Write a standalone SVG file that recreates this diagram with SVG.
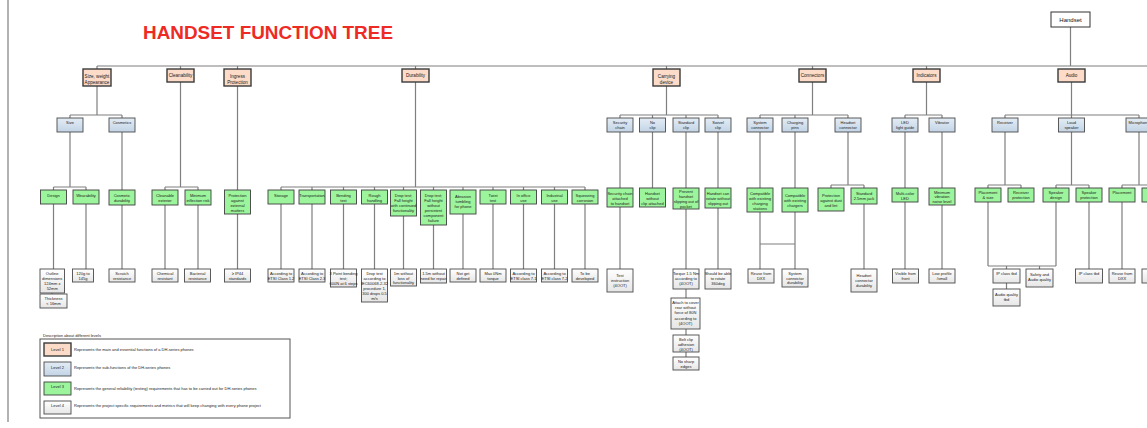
<svg xmlns="http://www.w3.org/2000/svg" width="1147" height="428" viewBox="0 0 1147 428">
<defs>
<linearGradient id="gb" x1="0" y1="0" x2="0" y2="1"><stop offset="0" stop-color="#e3ecf5"/><stop offset="1" stop-color="#c3d4e6"/></linearGradient>
<linearGradient id="gw" x1="0" y1="0" x2="0" y2="1"><stop offset="0" stop-color="#ffffff"/><stop offset="1" stop-color="#e6e6e6"/></linearGradient>
<style>
.l1{fill:#fff;stroke:#333;stroke-width:1}
.l2{fill:#fcdcc9;stroke:#3a3a3a;stroke-width:1.4}
.l3{fill:url(#gb);stroke:#4a4a4a;stroke-width:0.9}
.g{fill:#9cf59c;stroke:#3f3f3f;stroke-width:0.9}
.l4{fill:url(#gw);stroke:#4a4a4a;stroke-width:0.9}
.c{stroke:#7f7f7f;stroke-width:1.2;fill:none}
.t{font-family:"Liberation Sans",Arial,sans-serif;font-size:4px;text-anchor:middle;fill:#1a1a1a}
.t2{font-family:"Liberation Sans",Arial,sans-serif;font-size:4.6px;text-anchor:middle;fill:#1a1a1a}
.tl{font-family:"Liberation Sans",Arial,sans-serif;font-size:4px;fill:#1a1a1a}
</style>
</defs>
<rect x="0" y="0" width="1147" height="428" fill="#fff"/>
<text x="143" y="39" font-family="Liberation Sans, Arial, sans-serif" font-size="19" font-weight="bold" fill="#ee2a24" textLength="250" lengthAdjust="spacingAndGlyphs">HANDSET FUNCTION TREE</text>

<g id="connectors">
<path class="c" d="M8 0V422"/>
<path class="c" d="M1070.5 27V66M97 66H1147"/>
<path class="c" d="M97 66V69M180.5 66V69M237.5 66V69M415.5 66V69M666.5 66V69M812.5 66V69M926.5 66V69"/>
<path class="c" d="M97 86V115M70 115H122M70 115V118M122 115V118"/>
<path class="c" d="M70 132V187M53.5 187H86M53.5 187V190M86 187V190M122 132V190"/>
<path class="c" d="M180.5 82V187M165 187H198M165 187V190M198 187V190"/>
<path class="c" d="M237.5 86V190"/>
<path class="c" d="M415.5 82V187M281 187H585M281 187V190M312 187V190M343.5 187V190M374.5 187V190M403.5 187V190M433.5 187V190M463 187V190M493 187V190M523.5 187V190M554.5 187V190M585 187V190"/>
<path class="c" d="M666.5 86V115M620 115H718M620 115V118M652.5 115V118M686 115V118M718 115V118M620 132V188M652.5 132V188M686 132V188M718 132V188"/>
<path class="c" d="M812.5 82V115M760 115H848M760 115V118M795 115V118M848 115V118M760 132V188M795 132V188M848 132V185M831 185H864M831 185V188M864 185V188"/>
<path class="c" d="M926.5 82V115M905 115H942M905 115V118M942 115V118M905 132V188M942 132V188"/>
<path class="c" d="M1071.5 82V115M1005 115H1139M1005 115V118M1071.5 115V118M1139 115V118M1005 132V185M988 185H1021M988 185V188M1021 185V188M1071.5 132V185M1056 185H1089M1056 185V188M1089 185V188M1139 132V185M1122 185H1147M1122 185V188"/>
<path class="c" d="M53.5 204V269M52 293V294M86 204V269M122 205V269M165 205V269M198 205V269M237.5 214V269"/>
<path class="c" d="M281 204V269M312 204V269M343.5 204V269M374.5 204V269M403.5 216V269M433.5 225V269M463 214V269M493 204V269M523.5 204V269M554.5 204V269M585 204V269"/>
<path class="c" d="M620 207V269M686 209V269M718 208V269M686 289V298M686 329V335M686 352V357"/>
<path class="c" d="M760 212V269M795 212V269M760 244H795M864 204V269M905 202V269M942 205V269"/>
<path class="c" d="M988 202V266M1056 202V266M988 266H1056M1006.5 266V269M1039.5 266V269M1006.5 283V289M1089 202V269M1122 202V269"/>
</g>

<g id="n-handset"><rect class="l1" x="1051" y="12" width="39" height="15"/><text x="1070.5" y="22" font-family="Liberation Sans, Arial, sans-serif" font-size="6" text-anchor="middle" fill="#111">Handset</text></g>

<g id="n-size-weight"><rect class="l2" x="83" y="69" width="28" height="17"/><text class="t2" x="97" y="77.6"><tspan x="97">Size, weight</tspan><tspan x="97" dy="6">Appearance</tspan></text></g>
<g id="n-cleanability"><rect class="l2" x="167" y="69" width="27" height="13"/><text class="t2" x="180.5" y="77">Cleanability</text></g>
<g id="n-ingress"><rect class="l2" x="224" y="69" width="27" height="17"/><text class="t2" x="237.5" y="77.6"><tspan x="237.5">Ingress</tspan><tspan x="237.5" dy="6">Protection</tspan></text></g>
<g id="n-durability"><rect class="l2" x="402" y="69" width="27" height="13"/><text class="t2" x="415.5" y="77">Durability</text></g>
<g id="n-carrying"><rect class="l2" x="653" y="69" width="27" height="17"/><text class="t2" x="666.5" y="77.6"><tspan x="666.5">Carrying</tspan><tspan x="666.5" dy="6">device</tspan></text></g>
<g id="n-connectors"><rect class="l2" x="799" y="69" width="27" height="13"/><text class="t2" x="812.5" y="77">Connectors</text></g>
<g id="n-indicators"><rect class="l2" x="913" y="69" width="27" height="13"/><text class="t2" x="926.5" y="77">Indicators</text></g>
<g id="n-audio"><rect class="l2" x="1058" y="69" width="27" height="13"/><text class="t2" x="1071.5" y="77">Audio</text></g>

<g id="n-size"><rect class="l3" x="57" y="118" width="26" height="14"/><text class="t" x="70" y="123.8">Size</text></g>
<g id="n-cosmetics"><rect class="l3" x="109" y="118" width="26" height="14"/><text class="t" x="122" y="123.8">Cosmetics</text></g>
<g id="n-security-chain"><rect class="l3" x="607" y="118" width="26" height="14"/><text class="t" x="620" y="123.8"><tspan x="620">Security</tspan><tspan x="620" dy="4.8">chain</tspan></text></g>
<g id="n-no-clip"><rect class="l3" x="639.5" y="118" width="26" height="14"/><text class="t" x="652.5" y="123.8"><tspan x="652.5">No</tspan><tspan x="652.5" dy="4.8">clip</tspan></text></g>
<g id="n-standard-clip"><rect class="l3" x="673" y="118" width="26" height="14"/><text class="t" x="686" y="123.8"><tspan x="686">Standard</tspan><tspan x="686" dy="4.8">clip</tspan></text></g>
<g id="n-swivel-clip"><rect class="l3" x="705" y="118" width="26" height="14"/><text class="t" x="718" y="123.8"><tspan x="718">Swivel</tspan><tspan x="718" dy="4.8">clip</tspan></text></g>
<g id="n-system-connector"><rect class="l3" x="747" y="118" width="26" height="14"/><text class="t" x="760" y="123.8"><tspan x="760">System</tspan><tspan x="760" dy="4.8">connector</tspan></text></g>
<g id="n-charging-pins"><rect class="l3" x="782" y="118" width="26" height="14"/><text class="t" x="795" y="123.8"><tspan x="795">Charging</tspan><tspan x="795" dy="4.8">pins</tspan></text></g>
<g id="n-headset-connector"><rect class="l3" x="835" y="118" width="26" height="14"/><text class="t" x="848" y="123.8"><tspan x="848">Headset</tspan><tspan x="848" dy="4.8">connector</tspan></text></g>
<g id="n-led"><rect class="l3" x="892" y="118" width="26" height="14"/><text class="t" x="905" y="123.8"><tspan x="905">LED</tspan><tspan x="905" dy="4.8">light guide</tspan></text></g>
<g id="n-vibrator"><rect class="l3" x="929" y="118" width="26" height="14"/><text class="t" x="942" y="123.8">Vibrator</text></g>
<g id="n-receiver"><rect class="l3" x="992" y="118" width="26" height="14"/><text class="t" x="1005" y="123.8">Receiver</text></g>
<g id="n-loud-speaker"><rect class="l3" x="1058.5" y="118" width="26" height="14"/><text class="t" x="1071.5" y="123.8"><tspan x="1071.5">Loud</tspan><tspan x="1071.5" dy="4.8">speaker</tspan></text></g>
<g id="n-microphone"><rect class="l3" x="1126" y="118" width="26" height="14"/><text class="t" x="1139" y="123.8">Microphone</text></g>

<g id="n-design"><rect class="g" x="40.5" y="190" width="26" height="14"/><text class="t" x="53.5" y="196.7">Design</text></g>
<g id="n-wearability"><rect class="g" x="73" y="190" width="26" height="14"/><text class="t" x="86" y="196.7">Wearability</text></g>
<g id="n-cosmetic-durability"><rect class="g" x="109" y="190" width="26" height="15"/><text class="t" x="122" y="196.7"><tspan x="122">Cosmetic</tspan><tspan x="122" dy="5">durability</tspan></text></g>
<g id="n-cleanable-exterior"><rect class="g" x="152" y="190" width="26" height="15"/><text class="t" x="165" y="196.7"><tspan x="165">Cleanable</tspan><tspan x="165" dy="5">exterior</tspan></text></g>
<g id="n-minimum-inflection"><rect class="g" x="185" y="190" width="26" height="15"/><text class="t" x="198" y="196.7"><tspan x="198">Minimum</tspan><tspan x="198" dy="5">inflection risk</tspan></text></g>
<g id="n-protection-external"><rect class="g" x="224.5" y="190" width="26" height="24"/><text class="t" x="237.5" y="196.7"><tspan x="237.5">Protection</tspan><tspan x="237.5" dy="5">against</tspan><tspan x="237.5" dy="5">external</tspan><tspan x="237.5" dy="5">matters</tspan></text></g>
<g id="n-storage"><rect class="g" x="268" y="190" width="26" height="14"/><text class="t" x="281" y="196.7">Storage</text></g>
<g id="n-transportation"><rect class="g" x="299" y="190" width="26" height="14"/><text class="t" x="312" y="196.7">Transportation</text></g>
<g id="n-bending"><rect class="g" x="330.5" y="190" width="26" height="14"/><text class="t" x="343.5" y="196.7"><tspan x="343.5">Bending</tspan><tspan x="343.5" dy="5">test</tspan></text></g>
<g id="n-rough"><rect class="g" x="361.5" y="190" width="26" height="14"/><text class="t" x="374.5" y="196.7"><tspan x="374.5">Rough</tspan><tspan x="374.5" dy="5">handling</tspan></text></g>
<g id="n-drop1"><rect class="g" x="390.5" y="190" width="26" height="26"/><text class="t" x="403.5" y="196.7"><tspan x="403.5">Drop test;</tspan><tspan x="403.5" dy="5">Fall height</tspan><tspan x="403.5" dy="5">with continued</tspan><tspan x="403.5" dy="5">functionality</tspan></text></g>
<g id="n-drop2"><rect class="g" x="420.5" y="190" width="26" height="35"/><text class="t" x="433.5" y="196.7"><tspan x="433.5">Drop test;</tspan><tspan x="433.5" dy="5">Fall height</tspan><tspan x="433.5" dy="5">without</tspan><tspan x="433.5" dy="5">persistent</tspan><tspan x="433.5" dy="5">component</tspan><tspan x="433.5" dy="5">failure</tspan></text></g>
<g id="n-abrasion"><rect class="g" x="450" y="190" width="26" height="24"/><text class="t" x="463" y="197.5"><tspan x="463">Abrasion</tspan><tspan x="463" dy="5">tumbling</tspan><tspan x="463" dy="5">for phone</tspan></text></g>
<g id="n-twist"><rect class="g" x="480" y="190" width="26" height="14"/><text class="t" x="493" y="196.7"><tspan x="493">Twist</tspan><tspan x="493" dy="5">test</tspan></text></g>
<g id="n-office"><rect class="g" x="510.5" y="190" width="26" height="14"/><text class="t" x="523.5" y="196.7"><tspan x="523.5">In office</tspan><tspan x="523.5" dy="5">use</tspan></text></g>
<g id="n-industrial"><rect class="g" x="541.5" y="190" width="26" height="14"/><text class="t" x="554.5" y="196.7"><tspan x="554.5">Industrial</tspan><tspan x="554.5" dy="5">use</tspan></text></g>
<g id="n-squeezing"><rect class="g" x="572" y="190" width="26" height="14"/><text class="t" x="585" y="196.7"><tspan x="585">Squeezing</tspan><tspan x="585" dy="5">corrosion</tspan></text></g>
<g id="n-chain-attached"><rect class="g" x="607" y="188" width="26" height="19"/><text class="t" x="620" y="194.5"><tspan x="620">Security chain</tspan><tspan x="620" dy="5">attached</tspan><tspan x="620" dy="5">to handset</tspan></text></g>
<g id="n-without-clip"><rect class="g" x="639.5" y="188" width="26" height="19"/><text class="t" x="652.5" y="194.5"><tspan x="652.5">Handset</tspan><tspan x="652.5" dy="5">without</tspan><tspan x="652.5" dy="5">clip attached</tspan></text></g>
<g id="n-prevent"><rect class="g" x="673" y="188" width="26" height="21"/><text class="t" x="686" y="192.8"><tspan x="686">Prevent</tspan><tspan x="686" dy="4.9">handset</tspan><tspan x="686" dy="4.9">slipping out of</tspan><tspan x="686" dy="4.9">pocket</tspan></text></g>
<g id="n-rotate"><rect class="g" x="705" y="188" width="26" height="20"/><text class="t" x="718" y="194.5"><tspan x="718">Handset can</tspan><tspan x="718" dy="5">rotate without</tspan><tspan x="718" dy="5">slipping out</tspan></text></g>
<g id="n-compat-stations"><rect class="g" x="747" y="188" width="26" height="24"/><text class="t" x="760" y="194.5"><tspan x="760">Compatible</tspan><tspan x="760" dy="5">with existing</tspan><tspan x="760" dy="5">charging</tspan><tspan x="760" dy="5">stations</tspan></text></g>
<g id="n-compat-chargers"><rect class="g" x="782" y="188" width="26" height="24"/><text class="t" x="795" y="197"><tspan x="795">Compatible</tspan><tspan x="795" dy="5">with existing</tspan><tspan x="795" dy="5">chargers</tspan></text></g>
<g id="n-dust-lint"><rect class="g" x="818" y="188" width="26" height="23"/><text class="t" x="831" y="196.5"><tspan x="831">Protection</tspan><tspan x="831" dy="5">against dust</tspan><tspan x="831" dy="5">and lint</tspan></text></g>
<g id="n-jack"><rect class="g" x="851" y="188" width="26" height="16"/><text class="t" x="864" y="194.5"><tspan x="864">Standard</tspan><tspan x="864" dy="5">2.5mm jack</tspan></text></g>
<g id="n-multicolor"><rect class="g" x="892" y="188" width="26" height="14"/><text class="t" x="905" y="194.5"><tspan x="905">Multi-color</tspan><tspan x="905" dy="5">LED</tspan></text></g>
<g id="n-min-vibration"><rect class="g" x="929" y="188" width="26" height="17"/><text class="t" x="942" y="193.8"><tspan x="942">Minimum</tspan><tspan x="942" dy="4.5">vibration</tspan><tspan x="942" dy="4.5">noise level</tspan></text></g>
<g id="n-placement-size"><rect class="g" x="975" y="188" width="26" height="14"/><text class="t" x="988" y="194"><tspan x="988">Placement</tspan><tspan x="988" dy="4.6">&amp; size</tspan></text></g>
<g id="n-receiver-protection"><rect class="g" x="1008" y="188" width="26" height="14"/><text class="t" x="1021" y="194"><tspan x="1021">Receiver</tspan><tspan x="1021" dy="4.6">protection</tspan></text></g>
<g id="n-speaker-design"><rect class="g" x="1043" y="188" width="26" height="14"/><text class="t" x="1056" y="194"><tspan x="1056">Speaker</tspan><tspan x="1056" dy="4.6">design</tspan></text></g>
<g id="n-speaker-protection"><rect class="g" x="1076" y="188" width="26" height="14"/><text class="t" x="1089" y="194"><tspan x="1089">Speaker</tspan><tspan x="1089" dy="4.6">protection</tspan></text></g>
<g id="n-placement"><rect class="g" x="1109" y="188" width="26" height="14"/><text class="t" x="1122" y="194">Placement</text></g>
<g id="n-mic-more"><rect class="g" x="1142" y="188" width="26" height="14"/></g>

<g id="n-outline"><rect class="l4" x="40" y="269" width="24.5" height="24"/><text class="t" x="52.2" y="275"><tspan x="52.2">Outline</tspan><tspan x="52.2" dy="5">dimensions</tspan><tspan x="52.2" dy="5">124mm x</tspan><tspan x="52.2" dy="5">52mm</tspan></text></g>
<g id="n-thickness"><rect class="l4" x="40" y="294" width="27" height="14"/><text class="t" x="53.5" y="299.8"><tspan x="53.5">Thickness</tspan><tspan x="53.5" dy="5">&lt; 16mm</tspan></text></g>
<g id="n-weight"><rect class="l4" x="72.5" y="269" width="21" height="13"/><text class="t" x="83" y="274.8"><tspan x="83">120g to</tspan><tspan x="83" dy="5">145g</tspan></text></g>
<g id="n-scratch"><rect class="l4" x="109" y="269" width="26" height="13"/><text class="t" x="122" y="274.8"><tspan x="122">Scratch</tspan><tspan x="122" dy="5">resistance</tspan></text></g>
<g id="n-chemical"><rect class="l4" x="152" y="269" width="26" height="13"/><text class="t" x="165" y="274.8"><tspan x="165">Chemical</tspan><tspan x="165" dy="5">resistant</tspan></text></g>
<g id="n-bacterial"><rect class="l4" x="184.5" y="269" width="26" height="13"/><text class="t" x="197.5" y="274.8"><tspan x="197.5">Bacterial</tspan><tspan x="197.5" dy="5">resistance</tspan></text></g>
<g id="n-ip44"><rect class="l4" x="224.5" y="269" width="26" height="13"/><text class="t" x="237.5" y="274.8"><tspan x="237.5">≥ IP44</tspan><tspan x="237.5" dy="5">standards</tspan></text></g>
<g id="n-etsi12"><rect class="l4" x="268" y="269" width="26" height="13"/><text class="t" x="281" y="274.8"><tspan x="281">According to</tspan><tspan x="281" dy="5">ETSI Class 1.2</tspan></text></g>
<g id="n-etsi23"><rect class="l4" x="299" y="269" width="26" height="13"/><text class="t" x="312" y="274.8"><tspan x="312">According to</tspan><tspan x="312" dy="5">ETSI Class 2.3</tspan></text></g>
<g id="n-3point"><rect class="l4" x="330.5" y="269" width="26" height="18"/><text class="t" x="343.5" y="274.8"><tspan x="343.5">3 Point bending</tspan><tspan x="343.5" dy="5">test;</tspan><tspan x="343.5" dy="5">600N at 6 steps</tspan></text></g>
<g id="n-droptest"><rect class="l4" x="361.5" y="269" width="26" height="33"/><text class="t" x="374.5" y="274.8"><tspan x="374.5">Drop test</tspan><tspan x="374.5" dy="5.1">according to</tspan><tspan x="374.5" dy="5.1">IEC60068-2-32</tspan><tspan x="374.5" dy="5.1">procedure 1,</tspan><tspan x="374.5" dy="5.1">300 drops 0.5</tspan><tspan x="374.5" dy="5.1">m/s</tspan></text></g>
<g id="n-1m"><rect class="l4" x="390.5" y="269" width="26" height="17"/><text class="t" x="403.5" y="274.8"><tspan x="403.5">1m without</tspan><tspan x="403.5" dy="4.8">loss of</tspan><tspan x="403.5" dy="4.8">functionality</tspan></text></g>
<g id="n-15m"><rect class="l4" x="420.5" y="269" width="26" height="14"/><text class="t" x="433.5" y="274.8"><tspan x="433.5">1.5m without</tspan><tspan x="433.5" dy="5">need for repair</tspan></text></g>
<g id="n-notget"><rect class="l4" x="450" y="269" width="26" height="13"/><text class="t" x="463" y="274.8"><tspan x="463">Not get</tspan><tspan x="463" dy="5">defined</tspan></text></g>
<g id="n-maxtorque"><rect class="l4" x="480" y="269" width="26" height="13"/><text class="t" x="493" y="274.8"><tspan x="493">Max 0Nm</tspan><tspan x="493" dy="5">torque</tspan></text></g>
<g id="n-etsi71"><rect class="l4" x="510.5" y="269" width="26" height="13"/><text class="t" x="523.5" y="274.8"><tspan x="523.5">According to</tspan><tspan x="523.5" dy="5">ETSI class 7.1</tspan></text></g>
<g id="n-etsi72"><rect class="l4" x="541.5" y="269" width="26" height="13"/><text class="t" x="554.5" y="274.8"><tspan x="554.5">According to</tspan><tspan x="554.5" dy="5">ETSI class 7.2</tspan></text></g>
<g id="n-tbd"><rect class="l4" x="572" y="269" width="26" height="13"/><text class="t" x="585" y="274.8"><tspan x="585">To be</tspan><tspan x="585" dy="5">developed</tspan></text></g>
<g id="n-test-instruction"><rect class="l4" x="607" y="269" width="26" height="23"/><text class="t" x="620" y="277"><tspan x="620">Test</tspan><tspan x="620" dy="5">instruction</tspan><tspan x="620" dy="5">(4OOT)</tspan></text></g>
<g id="n-torque"><rect class="l4" x="673" y="269" width="26" height="20"/><text class="t" x="686" y="274.8"><tspan x="686">Torque 1.5 Nm</tspan><tspan x="686" dy="5">according to</tspan><tspan x="686" dy="5">(4OOT)</tspan></text></g>
<g id="n-attach"><rect class="l4" x="671" y="298" width="29" height="31"/><text class="t" x="685.5" y="304"><tspan x="685.5">Attach to cover</tspan><tspan x="685.5" dy="5.2">rear without</tspan><tspan x="685.5" dy="5.2">force of 80N</tspan><tspan x="685.5" dy="5.2">according to</tspan><tspan x="685.5" dy="5.2">(4OOT)</tspan></text></g>
<g id="n-belt-clip"><rect class="l4" x="673" y="335" width="26" height="17"/><text class="t" x="686" y="340.5"><tspan x="686">Belt clip</tspan><tspan x="686" dy="5">adhesion</tspan><tspan x="686" dy="5">(4OOT)</tspan></text></g>
<g id="n-sharp"><rect class="l4" x="673" y="357" width="26" height="13"/><text class="t" x="686" y="362.5"><tspan x="686">No sharp</tspan><tspan x="686" dy="5">edges</tspan></text></g>
<g id="n-rotate360"><rect class="l4" x="705" y="269" width="26" height="20"/><text class="t" x="718" y="274.8"><tspan x="718">Should be able</tspan><tspan x="718" dy="5">to rotate</tspan><tspan x="718" dy="5">360deg</tspan></text></g>
<g id="n-reuse1"><rect class="l4" x="748" y="269" width="26" height="14"/><text class="t" x="761" y="274.8"><tspan x="761">Reuse from</tspan><tspan x="761" dy="5">DXX</tspan></text></g>
<g id="n-sys-durability"><rect class="l4" x="782" y="269" width="26" height="18"/><text class="t" x="795" y="274.8"><tspan x="795">System</tspan><tspan x="795" dy="4.8">connector</tspan><tspan x="795" dy="4.8">durability</tspan></text></g>
<g id="n-hs-durability"><rect class="l4" x="851" y="269" width="26" height="23"/><text class="t" x="864" y="277"><tspan x="864">Headset</tspan><tspan x="864" dy="5">connector</tspan><tspan x="864" dy="5">durability</tspan></text></g>
<g id="n-visible"><rect class="l4" x="892.5" y="269" width="26" height="14"/><text class="t" x="905.5" y="274.8"><tspan x="905.5">Visible from</tspan><tspan x="905.5" dy="5">front</tspan></text></g>
<g id="n-lowprofile"><rect class="l4" x="929" y="269" width="26" height="14"/><text class="t" x="942" y="274.8"><tspan x="942">Low profile</tspan><tspan x="942" dy="5">/small</tspan></text></g>
<g id="n-ipclass1"><rect class="l4" x="993" y="269" width="27" height="14"/><text class="t" x="1006.5" y="274.8">IP class tbd</text></g>
<g id="n-safety"><rect class="l4" x="1026" y="269" width="27" height="18"/><text class="t" x="1039.5" y="276"><tspan x="1039.5">Safety and</tspan><tspan x="1039.5" dy="5">Audio quality</tspan></text></g>
<g id="n-audioq"><rect class="l4" x="993" y="289" width="27" height="17"/><text class="t" x="1006.5" y="295.5"><tspan x="1006.5">Audio quality</tspan><tspan x="1006.5" dy="5">tbd</tspan></text></g>
<g id="n-ipclass2"><rect class="l4" x="1075.5" y="269" width="27" height="14"/><text class="t" x="1089" y="274.8">IP class tbd</text></g>
<g id="n-reuse2"><rect class="l4" x="1109" y="269" width="26" height="14"/><text class="t" x="1122" y="274.8"><tspan x="1122">Reuse from</tspan><tspan x="1122" dy="5">DXX</tspan></text></g>
<g id="n-more4"><rect class="l4" x="1142" y="269" width="26" height="14"/></g>

<g id="legend">
<text class="tl" x="43" y="336.5">Description about different levels</text>
<rect x="40" y="339" width="250" height="79" fill="#fff" stroke="#555" stroke-width="1"/>
<rect class="l2" x="44" y="343" width="27" height="13" stroke-width="1"/><text class="t" x="57.5" y="350.5">Level 1</text>
<text class="tl" x="74" y="351">Represents the main and essential functions of a DH-series phones</text>
<rect class="l3" x="44" y="362" width="27" height="14"/><text class="t" x="57.5" y="368.5">Level 2</text>
<text class="tl" x="74" y="368.5">Represents the sub-functions of the DH-series phones</text>
<rect class="g" x="44" y="382" width="27" height="13"/><text class="t" x="57.5" y="387.5">Level 3</text>
<text class="tl" x="74" y="390">Represents the general reliability (testing) requirements that has to be carried out for DH-series phones</text>
<rect class="l4" x="44" y="401" width="27" height="13"/><text class="t" x="57.5" y="406.5">Level 4</text>
<text class="tl" x="74" y="406.5">Represents the project specific requirements and metrics that will keep changing with every phone project</text>
</g>
</svg>
